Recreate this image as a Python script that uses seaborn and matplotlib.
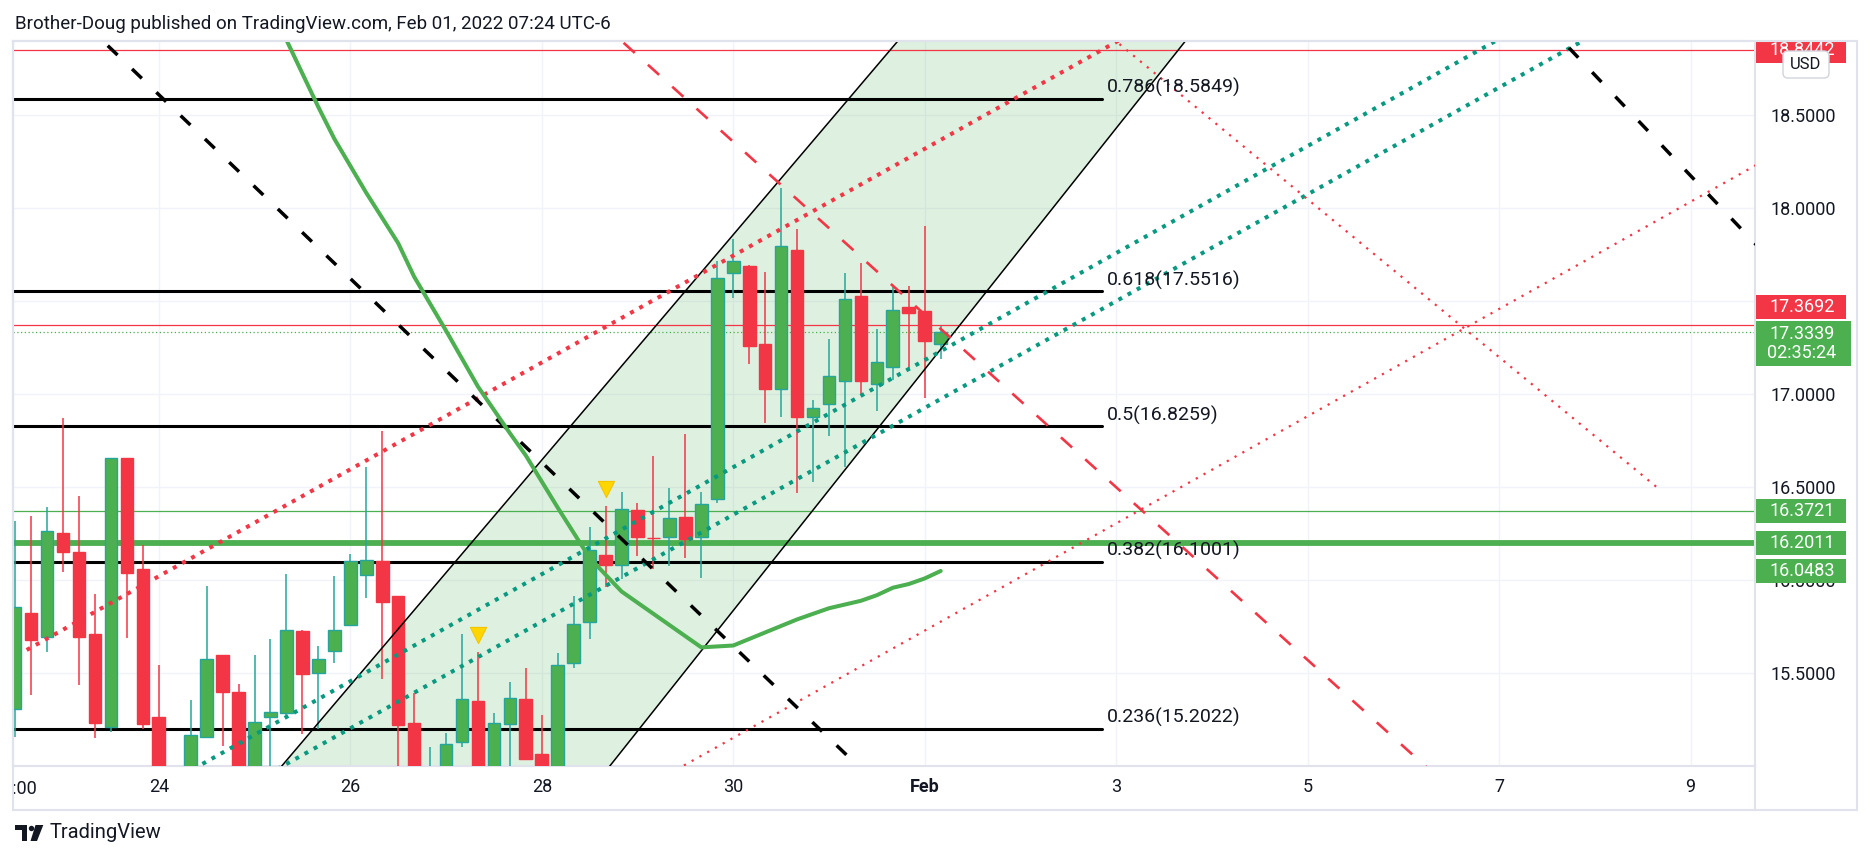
import numpy as np
import pandas as pd
import matplotlib.pyplot as plt
import seaborn as sns
from matplotlib.patches import Rectangle, FancyBboxPatch, Polygon, Circle
from matplotlib.transforms import blended_transform_factory, Bbox, TransformedBbox

sns.set_theme(style='white')
plt.rcParams['font.family'] = ['Roboto', 'DejaVu Sans']

TXT = '#131722'
GREEN = '#4caf50'
TEAL = '#089981'
WICK_UP = '#26a69a'
RED = '#f23645'
GRID = '#f0f3fa'
BORDER = '#e0e3eb'

# ---- 4h candles, first bar Jan 22 12:00 ----
opens = [15.307, 15.823, 15.694, 16.252, 16.150, 15.710, 15.211, 16.655, 16.059, 15.264,
         14.860, 14.920, 15.157, 15.597, 15.399, 14.930, 15.264, 15.286, 15.728, 15.501,
         15.619, 15.758, 16.027, 16.102, 15.914, 15.232, 14.880, 14.950, 15.130, 15.352,
         14.950, 15.230, 15.363, 15.068, 14.990, 15.554, 15.774, 16.136, 16.080, 16.377,
         16.229, 16.234, 16.340, 16.231, 16.434, 17.648, 17.685, 17.267, 17.029, 17.773,
         16.875, 16.944, 17.068, 17.524, 17.052, 17.147, 17.465, 17.444, 17.267]
highs = [16.318, 16.345, 16.392, 16.869, 16.451, 15.926, 16.655, 16.655, 16.191, 15.545,
         14.980, 15.357, 15.969, 15.597, 15.443, 15.599, 15.685, 16.034, 15.733, 15.647,
         16.023, 16.141, 16.608, 16.801, 15.914, 15.393, 15.107, 15.182, 15.712, 15.613,
         15.288, 15.454, 15.529, 15.279, 15.608, 15.916, 16.286, 16.399, 16.472, 16.413,
         16.667, 16.495, 16.787, 16.472, 17.714, 17.832, 17.692, 17.655, 18.108, 17.886,
         16.968, 17.295, 17.649, 17.703, 17.349, 17.580, 17.581, 17.902, 17.367]
lows = [15.161, 15.382, 15.617, 16.046, 15.440, 15.155, 15.184, 15.692, 15.200, 14.900,
        14.800, 14.860, 15.152, 15.112, 14.850, 14.900, 14.950, 15.277, 15.173, 15.200,
        15.558, 15.758, 15.907, 15.472, 14.950, 14.850, 14.820, 14.900, 15.107, 14.900,
        14.900, 14.950, 15.039, 14.970, 14.970, 15.531, 15.687, 15.966, 16.009, 16.132,
        16.061, 16.078, 16.121, 16.014, 16.417, 17.517, 17.163, 16.842, 16.875, 16.470,
        16.526, 16.773, 16.610, 16.995, 16.911, 17.077, 17.131, 16.980, 17.188]
closes = [15.855, 15.680, 16.263, 16.154, 15.694, 15.236, 16.655, 16.041, 15.227, 14.950,
          14.950, 15.168, 15.576, 15.402, 14.900, 15.238, 15.291, 15.733, 15.495, 15.576,
          15.733, 16.102, 16.107, 15.882, 15.221, 14.900, 14.980, 15.121, 15.363, 14.950,
          15.234, 15.368, 15.039, 14.990, 15.544, 15.764, 16.161, 16.080, 16.383, 16.234,
          16.225, 16.334, 16.220, 16.408, 17.621, 17.712, 17.259, 17.029, 17.793, 16.878,
          16.923, 17.095, 17.508, 17.068, 17.170, 17.449, 17.437, 17.286, 17.334]

# moving average (bar index, value)
ma_bars = [16, 17, 19, 20, 22, 24, 25, 27, 29, 31, 32, 34, 36, 37, 38, 39, 41, 43, 45, 47,
           49, 51, 53, 54, 55, 56, 57, 58]
ma_vals = [19.08, 18.90, 18.54, 18.37, 18.08, 17.81, 17.63, 17.34, 17.04, 16.79, 16.67, 16.39,
           16.12, 16.03, 15.94, 15.88, 15.76, 15.64, 15.65, 15.72, 15.79, 15.85, 15.89, 15.92,
           15.96, 15.98, 16.01, 16.05]
ma_last_label = '16.0483'

signal_bars = [29, 37]

# fib retracement
fib_ratios = ['0.786', '0.618', '0.5', '0.382', '0.236']
fib_levels = [18.5849, 17.5516, 16.8259, 16.1001, 15.2022]
fib_end_day = 9.847

# horizontal levels
red_levels = [18.8442, 17.3692]
green_thin_level = 16.3721
green_thick_level = 16.2011
last_price = 17.3339
countdown = '02:35:24'

# drawings: (days since Jan 24, price) anchor pairs
chan_left_d, chan_left_p = [1.294, 7.713], [15.009, 18.891]
chan_right_d, chan_right_p = [4.720, 10.717], [15.009, 18.891]
teal_up_d, teal_up_p = [0.430, 13.903], [15.007, 18.878]
teal_lo_d, teal_lo_p = [1.354, 14.825], [15.020, 18.882]
red_up_d, red_up_p = [-1.380, 10.004], [15.626, 18.891]
red_down_d, red_down_p = [10.004, 15.660], [18.891, 16.494]
red_lo_d, red_lo_p = [5.495, 16.653], [15.009, 18.220]
red_dash_d, red_dash_p = [6.192, 13.214], [18.265, 15.009]
blk_l_d, blk_l_p = [1.161, 7.292], [18.034, 15.009]
blk_r_d, blk_r_p = [14.668, 16.671], [18.891, 17.809]

tick_days = [0, 2, 4, 6, 8, 10, 12, 14, 16]
tick_labels = ['24', '26', '28', '30', 'Feb', '3', '5', '7', '9']
price_ticks = [15.5, 16.0, 16.5, 17.0, 17.5, 18.0, 18.5]
hidden_price_ticks = [17.5]   # covered by the price labels in TradingView

opens, highs, lows, closes = map(np.array, (opens, highs, lows, closes))
times = pd.date_range('2022-01-22 12:00', periods=len(opens), freq='4h')
days = ((times - pd.Timestamp('2022-01-24')) / pd.Timedelta(days=1)).to_numpy()


def seg(d, p, t0=0.0, t1=1.0):
    t = np.array([t0, t1])
    return d[0] + t * (d[1] - d[0]), p[0] + t * (p[1] - p[0])


W, H = 1872, 860
fig = plt.figure(figsize=(W / 100, H / 100), dpi=100)
fig.patch.set_facecolor('white')
ax = fig.add_axes([13 / W, 1 - 766 / H, (1755 - 13) / W, (766 - 41) / H])
ax.set_xlim(-1.5227, 16.672)
ax.set_ylim(15.0032, 18.8948)
ax.set_facecolor('white')

ax.set_yticks(price_ticks)
ax.set_yticklabels(['' if v in hidden_price_ticks else f'{v:.4f}' for v in price_ticks])
ax.yaxis.tick_right()
ax.set_xticks(tick_days)
ax.set_xticklabels(tick_labels)
ax.tick_params(axis='y', length=0, pad=11.5, labelsize=13, labelcolor=TXT)
ax.tick_params(axis='x', length=0, pad=9, labelsize=13, labelcolor=TXT)
for lbl in ax.get_xticklabels():
    if lbl.get_text() == 'Feb':
        lbl.set_fontweight('bold')
ax.grid(True, color=GRID, lw=1)
ax.set_axisbelow(True)
for s in ax.spines.values():
    s.set_color(BORDER)
    s.set_linewidth(1.5)

# channel fill
lx, ly = seg(chan_left_d, chan_left_p, -0.3, 1.3)
rx, ry = seg(chan_right_d, chan_right_p, -0.3, 1.3)
ax.add_patch(Polygon(np.column_stack([np.r_[lx, rx[::-1]], np.r_[ly, ry[::-1]]]),
                     closed=True, facecolor=GREEN, alpha=0.18, edgecolor='none', zorder=1))
ax.plot(lx, ly, color='black', lw=1.1, zorder=5)
ax.plot(rx, ry, color='black', lw=1.1, zorder=5)

# horizontal lines
for lv in red_levels:
    ax.axhline(lv, color=RED, lw=0.9, zorder=2)
ax.axhline(green_thin_level, color=GREEN, lw=0.9, zorder=2)
ax.axhline(green_thick_level, color=GREEN, lw=4.2, zorder=2)
ax.axhline(last_price, color=GREEN, lw=0.9, dashes=(1, 2), zorder=2)
for r, lv in zip(fib_ratios, fib_levels):
    ax.plot([-2, fib_end_day], [lv, lv], color='black', lw=2.2, zorder=2)
    ax.annotate(f'{r}({lv:.4f})', (fib_end_day + 0.056, lv), xytext=(0, 1.2),
                textcoords='offset points', ha='left', va='bottom', fontsize=14,
                color=TXT, zorder=6)

# candles
up = closes >= opens
face = np.where(up, GREEN, RED)
edge = np.where(up, WICK_UP, RED)
ax.vlines(days, lows, highs, colors=edge, lw=1.1, zorder=3)
ax.bar(days, np.maximum(np.abs(closes - opens), 0.004), bottom=np.minimum(opens, closes),
       width=0.132, color=face, edgecolor=edge, linewidth=1.0, zorder=4)

# diagonal drawings
x, y = seg(teal_up_d, teal_up_p, -0.2, 1.1)
ax.plot(x, y, color=TEAL, lw=2.9, dashes=(1, 1.6), zorder=5)
x, y = seg(teal_lo_d, teal_lo_p, -0.2, 1.1)
ax.plot(x, y, color=TEAL, lw=2.9, dashes=(1, 1.6), zorder=5)
x, y = seg(red_up_d, red_up_p, 0.0, 1.01)
ax.plot(x, y, color=RED, lw=2.9, dashes=(1, 1.6), zorder=5)
x, y = seg(red_down_d, red_down_p, -0.02, 1.0)
ax.plot(x, y, color=RED, lw=1.6, dashes=(1, 3.0), zorder=5)
x, y = seg(red_lo_d, red_lo_p, -0.2, 1.2)
ax.plot(x, y, color=RED, lw=1.6, dashes=(1, 3.0), zorder=5)
x, y = seg(red_dash_d, red_dash_p, -0.3, 1.2)
ax.plot(x, y, color=RED, lw=1.9, dashes=(5.7, 6.7), zorder=5)
x, y = seg(blk_l_d, blk_l_p, -0.5, 1.2)
ax.plot(x, y, color='black', lw=2.5, dashes=(3.9, 5.8), zorder=5)
x, y = seg(blk_r_d, blk_r_p, -0.3, 1.3)
ax.plot(x, y, color='black', lw=2.5, dashes=(3.9, 5.8), zorder=5)

# moving average
sns.lineplot(x=days[ma_bars], y=ma_vals, ax=ax, color=GREEN, lw=2.9, sort=False,
             estimator=None, zorder=5)

# signal triangles
ax.scatter(days[signal_bars], highs[signal_bars] + 0.093, marker='v', s=135,
           color='#ffd600', edgecolor='#f5c400', linewidth=0.8, zorder=6)

# ---- price scale labels ----
ytr = blended_transform_factory(fig.transFigure, ax.transData)
px = fig.dpi_scale_trans
bh = 0.132


def price_box(center, text, color, height=bh, right=1846):
    fig.add_artist(Rectangle((1756 / W, center - height / 2), (right - 1756) / W, height,
                             transform=ytr, facecolor=color, edgecolor='none', zorder=5))
    fig.text(1802 / W, center, text, transform=ytr, ha='center', va='center', color='white',
             fontsize=13, linespacing=1.05, zorder=6)


price_box(red_levels[0], f'{red_levels[0]:.4f}', RED)
price_box(red_levels[1] + 0.097, f'{red_levels[1]:.4f}', RED)
price_box(last_price - 0.064, f'{last_price:.4f}\n{countdown}', GREEN, height=0.243, right=1851)
price_box(green_thin_level, f'{green_thin_level:.4f}', GREEN)
price_box(green_thick_level, f'{green_thick_level:.4f}', GREEN)
price_box(ma_vals[-1], ma_last_label, GREEN)

# mask above chart, frame, USD badge
fig.add_artist(Rectangle((17.5, (H - 41) / 100), 1.22, 0.41, transform=px,
                         facecolor='white', edgecolor='none', zorder=7))
fig.add_artist(Rectangle((13 / 100, (H - 810) / 100), (1857 - 13) / 100, (810 - 41) / 100,
                         transform=px, facecolor='none', edgecolor=BORDER, lw=1.5, zorder=8))
fig.add_artist(plt.Line2D([17.55, 17.55], [(H - 810) / 100, (H - 766) / 100], transform=px,
                          color=BORDER, lw=1.5, zorder=8))
fig.add_artist(FancyBboxPatch((17.83, (H - 78) / 100), 0.46, 0.27, transform=px,
                              boxstyle='round,pad=0,rounding_size=0.05', facecolor='white',
                              edgecolor='#d1d4dc', lw=1.0, zorder=9))
fig.text(18.06, (H - 64.5) / 100, 'USD', transform=px, ha='center', va='center',
         fontsize=12, color=TXT, zorder=10)

# truncated first date label
t = fig.text(15.2 / 100, (H - 789) / 100, '12:00', transform=px, ha='center', va='center',
             fontsize=13, color=TXT)
t.set_clip_box(TransformedBbox(Bbox([[0.13, 0], [2, 9]]), px))
t.set_clip_on(True)

# header and logo
fig.text(0.15, (H - 24) / 100, 'Brother-Doug published on TradingView.com, Feb 01, 2022 07:24 UTC-6',
         transform=px, ha='left', va='center', fontsize=13.5, color=TXT)
fig.add_artist(Polygon([(0.15, 0.35), (0.27, 0.35), (0.27, 0.19), (0.22, 0.19), (0.22, 0.30),
                        (0.15, 0.30)], closed=True, transform=px, facecolor=TXT, edgecolor='none'))
fig.add_artist(Circle((0.315, 0.315), 0.027, transform=px, facecolor=TXT, edgecolor='none'))
fig.add_artist(Polygon([(0.355, 0.35), (0.433, 0.35), (0.37, 0.19), (0.305, 0.19)], closed=True,
                       transform=px, facecolor=TXT, edgecolor='none'))
fig.text(0.50, (H - 833) / 100, 'TradingView', transform=px, ha='left', va='center',
         fontsize=14.5, color=TXT)

fig.savefig('out.png', dpi=100)
